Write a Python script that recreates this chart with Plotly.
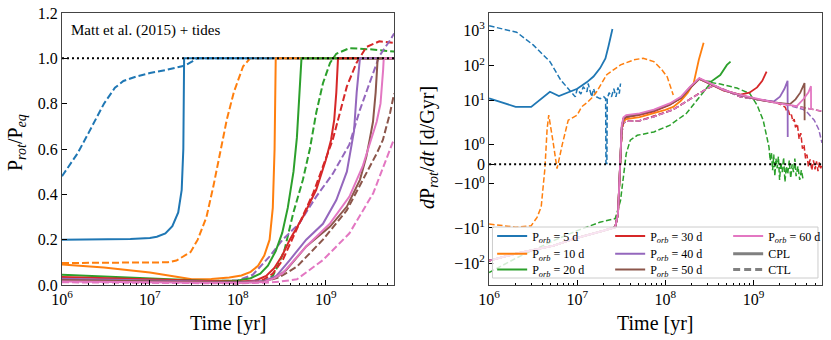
import numpy as np
import plotly.graph_objects as go

FONT = "Liberation Serif"
C5, C10, C20, C30, C40, C50, C60 = "#1f77b4", "#ff7f0e", "#2ca02c", "#d62728", "#9467bd", "#8c564b", "#e377c2"

# ---------------- Left panel: P_rot / P_eq ----------------
lt_cpl_5 = [1e6, 3e6, 6e6, 1e7, 1.2e7, 1.5e7, 1.8e7, 2.1e7, 2.3e7, 2.4e7, 2.45e7, 6e9]
lv_cpl_5 = [0.200, 0.201, 0.203, 0.207, 0.213, 0.228, 0.26, 0.32, 0.42, 0.6, 1.0, 1.0]
lt_cpl_10 = [1e6, 3e6, 1e7, 2e7, 3e7, 5e7, 8e7, 1.1e8, 1.4e8, 1.7e8, 2.0e8, 2.3e8, 2.5e8, 2.62e8, 2.68e8, 2.7e8, 6e9]
lv_cpl_10 = [0.09, 0.077, 0.055, 0.035, 0.025, 0.027, 0.033, 0.042, 0.058, 0.085, 0.13, 0.2, 0.34, 0.6, 0.85, 1.0, 1.0]
lt_cpl_20 = [1e6, 1e7, 5e7, 1e8, 1.4e8, 1.8e8, 2.2e8, 2.7e8, 3.2e8, 3.7e8, 4.3e8, 4.7e8, 5.0e8, 5.2e8, 5.3e8, 6e9]
lv_cpl_20 = [0.045, 0.03, 0.018, 0.02, 0.03, 0.05, 0.085, 0.15, 0.23, 0.34, 0.5, 0.65, 0.85, 0.97, 1.0, 1.0]
lt_cpl_30 = [1e6, 1e7, 5e7, 1e8, 1.6e8, 2.1e8, 2.6e8, 3.2e8, 3.9e8, 5.5e8, 7.8e8, 1.0e9, 1.15e9, 1.25e9, 1.32e9, 1.38e9, 6e9]
lv_cpl_30 = [0.035, 0.025, 0.015, 0.014, 0.02, 0.04, 0.075, 0.13, 0.2, 0.3, 0.42, 0.55, 0.64, 0.73, 0.85, 1.0, 1.0]
lt_cpl_40 = [1e6, 1e7, 5e7, 1e8, 2e8, 2.75e8, 3.9e8, 6e8, 9.3e8, 1.32e9, 1.74e9, 1.95e9, 2.1e9, 2.25e9, 2.38e9, 2.45e9, 6e9]
lv_cpl_40 = [0.028, 0.02, 0.013, 0.012, 0.018, 0.04, 0.11, 0.2, 0.27, 0.375, 0.5, 0.6, 0.68, 0.85, 0.95, 1.0, 1.0]
lt_cpl_50 = [1e6, 1e7, 5e7, 1e8, 2e8, 2.8e8, 3.55e8, 6e8, 1.12e9, 1.74e9, 2.45e9, 2.9e9, 3.16e9, 3.45e9, 3.7e9, 3.85e9, 3.9e9, 6e9]
lv_cpl_50 = [0.022, 0.017, 0.012, 0.011, 0.015, 0.035, 0.066, 0.17, 0.258, 0.346, 0.464, 0.567, 0.64, 0.72, 0.85, 0.95, 1.0, 1.0]
lt_cpl_60 = [1e6, 1e7, 5e7, 1e8, 2e8, 2.6e8, 3.24e8, 6e8, 1.12e9, 1.86e9, 2.63e9, 3.3e9, 3.8e9, 4.2e9, 4.4e9, 4.5e9, 4.57e9, 6e9]
lv_cpl_60 = [0.015, 0.012, 0.01, 0.009, 0.013, 0.03, 0.052, 0.17, 0.272, 0.39, 0.523, 0.64, 0.72, 0.8, 0.88, 0.95, 1.0, 1.0]

lt_ctl_5 = [1e6, 1.5e6, 2e6, 2.5e6, 3e6, 4e6, 5e6, 7e6, 1e7, 1.5e7, 2e7, 2.5e7, 3e7, 3.4e7, 6e9]
lv_ctl_5 = [0.48, 0.58, 0.67, 0.74, 0.80, 0.87, 0.90, 0.92, 0.935, 0.948, 0.958, 0.968, 0.985, 1.0, 1.0]
lt_ctl_10 = [1e6, 3e6, 1e7, 1.6e7, 2e7, 2.4e7, 2.9e7, 3.5e7, 4.4e7, 5.3e7, 6.3e7, 7.5e7, 9e7, 1.15e8, 1.38e8, 6e9]
lv_ctl_10 = [0.097, 0.097, 0.097, 0.1, 0.108, 0.125, 0.145, 0.2, 0.3, 0.44, 0.58, 0.73, 0.85, 0.965, 1.0, 1.0]
lt_ctl_20 = [1e6, 1e7, 1e8, 2e8, 2.5e8, 2.9e8, 3.4e8, 4.27e8, 5.5e8, 6.6e8, 7.8e8, 9.3e8, 1.12e9, 1.32e9, 1.86e9, 3.16e9, 6e9]
lv_ctl_20 = [0.025, 0.016, 0.01, 0.015, 0.04, 0.09, 0.155, 0.317, 0.464, 0.6, 0.76, 0.89, 0.98, 1.02, 1.045, 1.04, 1.03]
lt_ctl_30 = [1e6, 1e7, 1e8, 2e8, 2.5e8, 3.24e8, 5e8, 7.2e8, 9.3e8, 1.2e9, 1.32e9, 1.74e9, 2.24e9, 2.9e9, 4.07e9, 6e9]
lv_ctl_30 = [0.02, 0.013, 0.008, 0.025, 0.05, 0.11, 0.272, 0.405, 0.523, 0.64, 0.70, 0.876, 0.98, 1.05, 1.075, 1.068]
lt_ctl_40 = [1e6, 1e7, 1e8, 1.48e8, 2.29e8, 3.24e8, 5e8, 7.8e8, 1.2e9, 1.86e9, 2.45e9, 3.16e9, 4.07e9, 5.4e9, 6e9]
lv_ctl_40 = [0.018, 0.012, 0.02, 0.045, 0.125, 0.2, 0.272, 0.39, 0.49, 0.62, 0.773, 0.89, 1.01, 1.08, 1.11]
lt_ctl_50 = [1e6, 1e7, 1e8, 2e8, 3e8, 4.7e8, 9.3e8, 1.74e9, 2.63e9, 3.8e9, 4.47e9, 5.4e9, 6e9]
lv_ctl_50 = [0.016, 0.011, 0.008, 0.015, 0.035, 0.081, 0.2, 0.33, 0.464, 0.58, 0.64, 0.76, 0.845]
lt_ctl_60 = [1e6, 1e7, 1e8, 2e8, 3e8, 4.7e8, 9.3e8, 1.86e9, 3.47e9, 6e9]
lv_ctl_60 = [0.012, 0.009, 0.007, 0.01, 0.015, 0.025, 0.11, 0.228, 0.405, 0.645]

# ---------------- Right panel: dP_rot/dt [d/Gyr] ----------------
rt_early = [1e6, 2e6, 5.4e6, 1e7, 2e7, 2.7e7, 2.9e7, 3.0e7, 3.1e7]
rv_early = [-85, -54, -32, -19, -11.9, -9.5, -4, -1.2, 0.4]

rt_cpl_5 = [1e6, 2e6, 3e6, 4.9e6, 6.2e6, 1e7, 1.29e7, 1.53e7, 1.82e7, 2.09e7, 2.26e7, 2.45e7, 2.51e7]
rv_cpl_5 = [11.7, 6.7, 6.7, 18, 13.6, 22, 34, 49, 85, 160, 350, 930, 1100]
rt_ctl_5 = [1e6, 2.05e6, 3.16e6, 4.9e6, 6.5e6, 7.9e6, 9.5e6, 1.0e7, 1.1e7, 1.17e7, 1.29e7, 1.33e7, 1.46e7, 1.53e7,
            1.66e7, 1.82e7, 2.0e7, 2.1e7, 2.12e7, 2.17e7, 2.19e7, 2.3e7, 2.45e7, 2.6e7, 2.75e7, 2.9e7, 3.0e7, 3.1e7]
rv_ctl_5 = [1358, 893, 389, 130, 39, 22.5, 12.9, 22, 15.5, 25, 18, 31, 12.9, 22,
            12.9, 11.5, 13, 11.5, 0.05, 0.05, 11.5, 17, 13, 22, 12.9, 24, 16, 31]

rt_cpl_10 = [3.2e7, 3.35e7, 3.6e7, 5.1e7, 7e7, 1e8, 1.23e8, 1.5e8, 1.8e8, 2.1e8, 2.4e8, 2.72e8]
rv_cpl_10 = [1.8, 2.6, 3.0, 3.4, 4.2, 5.5, 6.7, 10, 17, 32, 147, 450]
rt_ctl_10 = [1e6, 2e6, 3e6, 3.5e6, 3.9e6, 4.3e6, 4.55e6, 4.75e6, 5.3e6, 5.9e6, 6.8e6, 7.9e6, 1e7, 1.12e7,
             1.3e7, 1.46e7, 1.66e7, 2.16e7, 3.1e7, 4.4e7, 5.6e7, 7.4e7, 9e7, 1.05e8, 1.23e8]
rv_ctl_10 = [-7.7, -9.5, -8.6, -5, -2.5, -0.2, 1.8, 3.9, 1.2, -0.22, 1.06, 2.8, 3.9, 6.7,
             9, 12, 18, 55, 105, 146, 163, 130, 80, 48, 14.5]

rt_cpl_20 = [3.2e7, 3.35e7, 3.6e7, 5.1e7, 7.4e7, 1.12e8, 1.5e8, 1.9e8, 2.43e8, 2.8e8, 3.3e8, 4.2e8, 5e8, 5.5e8]
rv_cpl_20 = [1.9, 3.1, 3.5, 4.1, 5.2, 7.8, 12, 23, 42, 36, 35, 54, 105, 130]
rt_ctl_20 = [1e6, 2.1e6, 5.4e6, 1e7, 1.8e7, 2.7e7, 3.1e7, 3.4e7, 3.6e7, 4e7, 4.8e7, 7.4e7, 1.12e8, 1.74e8,
             2.45e8, 3.3e8, 4.2e8, 6.5e8, 9.1e8, 1.1e9, 1.29e9, 1.4e9,
             1.5e9, 1.55e9, 1.6e9, 1.65e9, 1.7e9, 1.75e9, 1.8e9, 1.86e9, 1.92e9, 1.98e9, 2.05e9, 2.12e9, 2.2e9,
             2.28e9, 2.36e9, 2.45e9, 2.55e9, 2.65e9, 2.75e9, 2.85e9, 2.95e9, 3.05e9, 3.2e9, 3.35e9, 3.5e9, 3.65e9]
rv_ctl_20 = [-185, -69, -23, -11.9, -6.9, -5.4, -1.85, -0.48, 0.55, 1.24, 1.49, 1.66, 2.0, 4.4,
             12.9, 33, 30, 23, 16, 7.5, 2.8, 1.5,
             0.9, 0.2, 0.6, -0.3, 0.5, -0.6, 0.3, -0.2, 0.4, -0.8, 0.1, -0.4, 0.35,
             -0.9, -0.1, -0.5, 0.2, -0.7, 0.0, -0.4, 0.3, -0.6, -0.1, -0.8, -0.3, -0.74]

rt_cpl_30 = [3.2e7, 3.35e7, 3.6e7, 5.1e7, 7.4e7, 1.12e8, 1.5e8, 1.9e8, 2.43e8, 2.95e8, 4.6e8, 7.1e8, 9e8, 1.1e9, 1.26e9, 1.41e9]
rv_cpl_30 = [1.8, 3.0, 3.4, 4.0, 5.0, 7.6, 12, 23, 42, 33, 19.5, 15, 17, 24, 37, 68]
rt_ctl_30 = [3.2e7, 3.35e7, 3.6e7, 5.1e7, 7.4e7, 1.23e8, 1.9e8, 2.95e8, 3.55e8, 4.6e8, 7.1e8, 1.1e9, 1.7e9, 2.0e9,
             2.2e9, 2.3e9, 2.4e9, 2.5e9, 2.6e9, 2.7e9, 2.8e9, 2.9e9, 3.0e9, 3.15e9, 3.3e9, 3.45e9, 3.6e9, 3.75e9,
             3.9e9, 4.05e9, 4.2e9, 4.4e9, 4.6e9, 4.8e9, 5.0e9, 5.2e9, 5.4e9, 5.6e9, 5.8e9, 6.0e9]
rv_ctl_30 = [1.6, 2.4, 2.6, 2.7, 3.6, 5.6, 11.2, 22, 27, 21, 13, 11, 9.4, 8,
             7, 6.5, 4.8, 5.2, 3.6, 4.0, 2.6, 3.0, 1.9, 2.2, 1.3, 1.6, 0.8, 1.0,
             0.3, 0.5, -0.1, 0.25, -0.3, 0.2, -0.25, 0.15, -0.35, 0.1, -0.2, 0.0]

rt_cpl_40 = [3.2e7, 3.35e7, 3.6e7, 5.1e7, 7.4e7, 1.12e8, 1.5e8, 1.9e8, 2.43e8, 2.95e8, 4.6e8, 7.1e8, 1.1e9, 1.7e9, 2.0e9, 2.25e9, 2.44e9, 2.45e9]
rv_cpl_40 = [1.9, 3.2, 3.6, 4.2, 5.3, 8.0, 12.5, 24, 43, 34, 20, 14.3, 11, 9.5, 13, 22, 37, 1.4]
rt_ctl_40 = [3.2e7, 3.35e7, 3.6e7, 5.1e7, 7.4e7, 1.23e8, 1.9e8, 2.95e8, 3.55e8, 4.6e8, 7.1e8, 1.1e9, 1.7e9,
             2.6e9, 3.2e9, 3.7e9, 4.1e9, 4.5e9, 4.9e9, 5.5e9, 6e9]
rv_ctl_40 = [1.6, 2.3, 2.6, 2.7, 3.5, 5.6, 11.2, 22, 27, 21, 13, 11, 9.4,
             7.3, 6.4, 5.6, 4.6, 3.6, 2.8, 1.8, 1.1]

rt_cpl_50 = [3.2e7, 3.35e7, 3.6e7, 5.1e7, 7.4e7, 1.12e8, 1.5e8, 1.9e8, 2.43e8, 2.95e8, 4.6e8, 7.1e8, 1.1e9, 1.7e9, 2.6e9, 3.0e9, 3.4e9, 3.8e9, 3.81e9]
rv_cpl_50 = [1.9, 3.1, 3.5, 4.1, 5.2, 7.8, 12, 23.5, 43, 34, 20, 14.4, 11, 9, 8, 11, 17, 32, 2.8]
rt_ctl_50 = [3.2e7, 3.35e7, 3.6e7, 5.1e7, 7.4e7, 1.23e8, 1.9e8, 2.95e8, 3.55e8, 4.6e8, 7.1e8, 1.1e9, 1.7e9, 2.6e9, 3.5e9, 4.5e9, 6e9]
rv_ctl_50 = [1.6, 2.3, 2.6, 2.7, 3.5, 5.6, 11.2, 22, 27, 21, 13, 11, 9.2, 7.6, 6.6, 5.8, 5.0]

rt_cpl_60 = [3.2e7, 3.35e7, 3.6e7, 5.1e7, 7.4e7, 1.12e8, 1.5e8, 1.9e8, 2.43e8, 2.95e8, 4.6e8, 7.1e8, 1.1e9, 1.7e9, 2.6e9, 3.1e9, 3.7e9, 4.2e9, 4.5e9, 4.51e9]
rv_cpl_60 = [2.0, 3.4, 3.9, 4.4, 5.6, 8.4, 13, 25, 44, 35, 20.5, 14.6, 11.2, 9, 7.5, 7.0, 11.2, 17, 26, 5.6]
rt_ctl_60 = [3.2e7, 3.35e7, 3.6e7, 5.1e7, 7.4e7, 1.23e8, 1.9e8, 2.95e8, 3.55e8, 4.6e8, 7.1e8, 1.1e9, 1.7e9, 2.6e9, 3.5e9, 4.5e9, 6e9]
rv_ctl_60 = [1.6, 2.3, 2.6, 2.7, 3.5, 5.6, 11.2, 22, 27, 21, 13, 11, 9.0, 7.4, 6.4, 5.6, 5.1]

porb_days = [5, 10, 20, 30, 40, 50, 60]
colors = [C5, C10, C20, C30, C40, C50, C60]
right_ytick_vals = [1e3, 1e2, 1e1, 1e0, 0, -1e0, -1e1, -1e2]
right_ytick_text = ["10<sup>3</sup>", "10<sup>2</sup>", "10<sup>1</sup>", "10<sup>0</sup>", "0",
                    "\u221210<sup>0</sup>", "\u221210<sup>1</sup>", "\u221210<sup>2</sup>"]
x_tick_vals = [1e6, 1e7, 1e8, 1e9]
x_tick_text = ["10<sup>6</sup>", "10<sup>7</sup>", "10<sup>8</sup>", "10<sup>9</sup>"]

LINTHRESH = 2.0


def symlog(vals):
    a = np.asarray(vals, dtype=float)
    c = 1.0 / (1.0 - 0.1)
    mag = np.maximum(np.abs(a), 1e-12)
    return np.where(mag <= LINTHRESH, a / LINTHRESH * c, np.sign(a) * (c + np.log10(mag / LINTHRESH)))


left_cpl = [(lt_cpl_5, lv_cpl_5), (lt_cpl_10, lv_cpl_10), (lt_cpl_20, lv_cpl_20), (lt_cpl_30, lv_cpl_30),
            (lt_cpl_40, lv_cpl_40), (lt_cpl_50, lv_cpl_50), (lt_cpl_60, lv_cpl_60)]
left_ctl = [(lt_ctl_5, lv_ctl_5), (lt_ctl_10, lv_ctl_10), (lt_ctl_20, lv_ctl_20), (lt_ctl_30, lv_ctl_30),
            (lt_ctl_40, lv_ctl_40), (lt_ctl_50, lv_ctl_50), (lt_ctl_60, lv_ctl_60)]
right_cpl = [(rt_cpl_5, rv_cpl_5),
             (rt_early + rt_cpl_10, rv_early + rv_cpl_10),
             (rt_early + rt_cpl_20, rv_early + rv_cpl_20),
             (rt_early + rt_cpl_30, rv_early + rv_cpl_30),
             (rt_early + rt_cpl_40, rv_early + rv_cpl_40),
             (rt_early + rt_cpl_50, rv_early + rv_cpl_50),
             (rt_early + rt_cpl_60, rv_early + rv_cpl_60)]
right_ctl = [(rt_ctl_5, rv_ctl_5), (rt_ctl_10, rv_ctl_10), (rt_ctl_20, rv_ctl_20),
             (rt_early + rt_ctl_30, rv_early + rv_ctl_30),
             (rt_early + rt_ctl_40, rv_early + rv_ctl_40),
             (rt_early + rt_ctl_50, rv_early + rv_ctl_50),
             (rt_early + rt_ctl_60, rv_early + rv_ctl_60)]

# legend rows: (legend id, rank)
legend_slot = {5: ("legend", 1), 30: ("legend", 2), 60: ("legend", 3),
               10: ("legend2", 1), 40: ("legend2", 2),
               20: ("legend3", 1), 50: ("legend3", 2)}

fig = go.Figure()
DASH_L = "7px,3px"
DASH_R = "5.5px,2.5px"

# left panel
for (t, v), col in zip(left_ctl, colors):
    fig.add_trace(go.Scatter(x=t, y=v, mode="lines", line=dict(color=col, width=2, dash=DASH_L),
                             showlegend=False, xaxis="x", yaxis="y"))
for (t, v), col, p in zip(left_cpl, colors, porb_days):
    lg, rk = legend_slot[p]
    fig.add_trace(go.Scatter(x=t, y=v, mode="lines", line=dict(color=col, width=2),
                             name=f"P<sub><i>orb</i></sub> = {p} d", legend=lg, legendrank=rk,
                             showlegend=True, xaxis="x", yaxis="y"))
fig.add_trace(go.Scatter(x=[1e6, 6e9], y=[1.0, 1.0], mode="lines",
                         line=dict(color="black", width=2, dash="2px,3px"), showlegend=False,
                         xaxis="x", yaxis="y"))

# right panel
for (t, v), col in zip(right_ctl, colors):
    fig.add_trace(go.Scatter(x=t, y=symlog(v), mode="lines", line=dict(color=col, width=1.5, dash=DASH_R),
                             showlegend=False, xaxis="x2", yaxis="y2"))
for (t, v), col in zip(right_cpl, colors):
    fig.add_trace(go.Scatter(x=t, y=symlog(v), mode="lines", line=dict(color=col, width=1.8),
                             showlegend=False, xaxis="x2", yaxis="y2"))
fig.add_trace(go.Scatter(x=[1e6, 6e9], y=symlog([0, 0]), mode="lines",
                         line=dict(color="black", width=2, dash="2px,3px"), showlegend=False,
                         xaxis="x2", yaxis="y2"))

# legend-only style entries
fig.add_trace(go.Scatter(x=[None], y=[None], mode="lines", line=dict(color="#808080", width=3),
                         name="CPL", legend="legend2", legendrank=3, xaxis="x2", yaxis="y2"))
fig.add_trace(go.Scatter(x=[None], y=[None], mode="lines", line=dict(color="#808080", width=3, dash="7px,4px"),
                         name="CTL", legend="legend3", legendrank=3, xaxis="x2", yaxis="y2"))

minor_vals = [k * 10 ** e for e in range(6, 10) for k in range(2, 10)]
xlog_range = [6, np.log10(6e9)]
axis_common = dict(showline=True, linecolor="#444", linewidth=1, mirror=True, ticks="inside",
                   ticklen=5, tickwidth=1, tickcolor="black", showgrid=False, zeroline=False,
                   tickfont=dict(family=FONT, size=16, color="black"))

fig.update_layout(
    width=831, height=340, autosize=False,
    margin=dict(l=62, r=9, t=13, b=55, autoexpand=False),
    paper_bgcolor="white", plot_bgcolor="white",
    font=dict(family=FONT, color="black"),
    xaxis=dict(domain=[0, 0.437], type="log", range=xlog_range, tickvals=x_tick_vals, ticktext=x_tick_text,
               minor=dict(tickvals=minor_vals, ticks="inside", ticklen=2.5, tickcolor="black"),
               anchor="y", **axis_common),
    yaxis=dict(range=[0, 1.2], tickvals=[0, 0.2, 0.4, 0.6, 0.8, 1.0, 1.2], tickformat=".1f",
               anchor="x", **axis_common),
    xaxis2=dict(domain=[0.562, 1.0], type="log", range=xlog_range, tickvals=x_tick_vals, ticktext=x_tick_text,
                minor=dict(tickvals=minor_vals, ticks="inside", ticklen=2.5, tickcolor="black"),
                anchor="y2", **axis_common),
    yaxis2=dict(range=[-3.433, 4.308], tickvals=list(symlog(right_ytick_vals)), ticktext=right_ytick_text,
                anchor="x2", **axis_common),
)

leg_common = dict(orientation="h", bgcolor="rgba(0,0,0,0)", borderwidth=0,
                  font=dict(family=FONT, size=12, color="black"), entrywidth=73, entrywidthmode="pixels",
                  itemwidth=30, xanchor="left", yanchor="top", tracegroupgap=0)
fig.update_layout(
    legend=dict(x=0.566, y=0.233, **leg_common),
    legend2=dict(x=0.566, y=0.168, **leg_common),
    legend3=dict(x=0.566, y=0.110, **leg_common),
)

fig.add_shape(type="rect", xref="paper", yref="paper", x0=0.5664, x1=0.9947, y0=0.0257, y1=0.2132,
              fillcolor="rgba(255,255,255,0.8)", line=dict(color="#cccccc", width=1), layer="above")

annots = [
    dict(text="Matt et al. (2015) + tides", x=0.0092, y=0.9375, xanchor="left", yanchor="middle",
         font=dict(size=15)),
    dict(text="Time [yr]", x=0.218, y=-0.14, xanchor="center", yanchor="middle", font=dict(size=20)),
    dict(text="Time [yr]", x=0.780, y=-0.14, xanchor="center", yanchor="middle", font=dict(size=20)),
    dict(text="P<sub><i>rot</i></sub>/P<sub><i>eq</i></sub>", x=-0.0605, y=0.522, xanchor="center",
         yanchor="middle", textangle=-90, font=dict(size=20)),
    dict(text="<i>d</i>P<sub><i>rot</i></sub>/<i>dt</i> [d/Gyr]", x=0.483, y=0.504, xanchor="center",
         yanchor="middle", textangle=-90, font=dict(size=20)),
]
for a in annots:
    fig.add_annotation(xref="paper", yref="paper", showarrow=False,
                       font=dict(family=FONT, color="black", size=a.pop("font")["size"]), **a)

fig.write_html("out.html", config={"responsive": False, "displayModeBar": False},
               post_script="document.body.style.margin='0';document.body.style.padding='0';")
